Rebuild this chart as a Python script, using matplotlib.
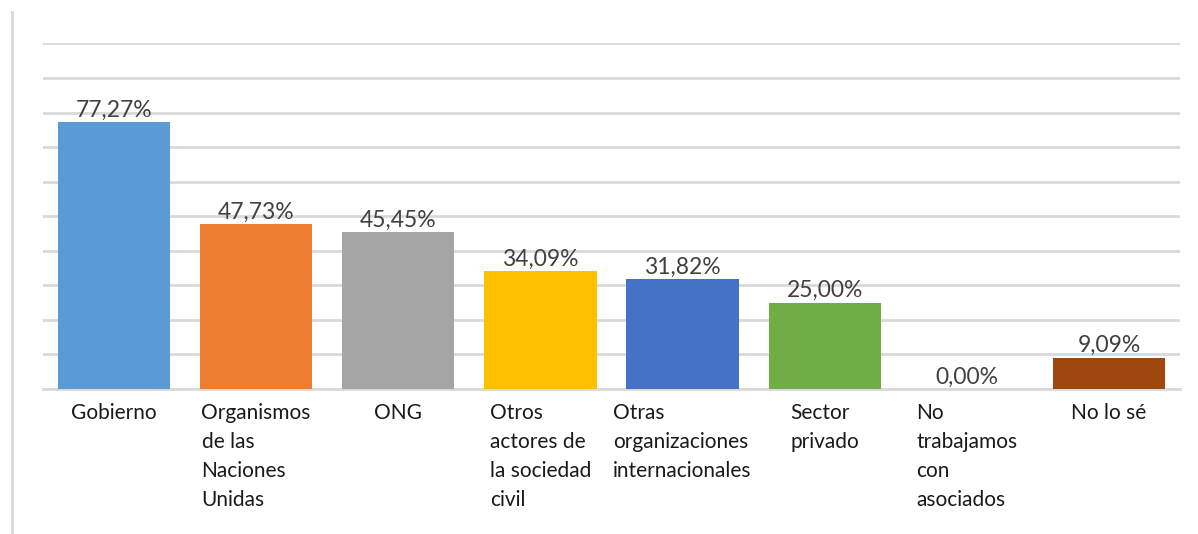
import matplotlib
matplotlib.use("Agg")
import matplotlib.pyplot as plt
from matplotlib.lines import Line2D

categories = ["Gobierno", "Organismos\nde las\nNaciones\nUnidas", "ONG",
              "Otros\nactores de\nla sociedad\ncivil",
              "Otras\norganizaciones\ninternacionales", "Sector\nprivado",
              "No\ntrabajamos\ncon\nasociados", "No lo sé"]
values = [77.27, 47.73, 45.45, 34.09, 31.82, 25.00, 0.00, 9.09]
value_labels = ["77,27%", "47,73%", "45,45%", "34,09%", "31,82%", "25,00%", "0,00%", "9,09%"]
colors = ["#5B9BD5", "#ED7D31", "#A5A5A5", "#FFC000", "#4472C4", "#70AD47", "#264478", "#9E480E"]

plt.rcParams['font.family'] = ['Lato', 'DejaVu Sans']

W, H = 1198, 534
fig = plt.figure(figsize=(W / 100, H / 100), dpi=100)
ax = fig.add_axes([43 / W, 1 - 389 / H, (1180 - 43) / W, (389 - 43.4) / H])

x = list(range(len(categories)))
ax.bar(x, values, width=0.79, color=colors, zorder=3)
ax.set_xlim(-0.5, len(categories) - 0.5)
ax.set_ylim(0, 100)
ax.set_yticks(range(0, 101, 10))
ax.yaxis.grid(True, color="#D9D9D9", linewidth=2, zorder=0)
ax.tick_params(left=False, bottom=False, labelleft=False, labelbottom=False)
for s in ["left", "right", "top"]:
    ax.spines[s].set_visible(False)
ax.spines["bottom"].set_color("#D9D9D9")
ax.spines["bottom"].set_linewidth(2)

for xi, v, lab in zip(x, values, value_labels):
    ax.annotate(lab, (xi, v), xytext=(0, 1), textcoords="offset points",
                ha="center", va="bottom", fontsize=16.5, color="#404040")

for xi, cat in zip(x, categories):
    ax.annotate(cat, (xi, 0), xytext=(0, -10), textcoords="offset points",
                ha="center", va="top", multialignment="left",
                fontsize=15, color="#1a1a1a", linespacing=1.56)

fig.add_artist(Line2D([12 / W, 12 / W], [0, 1 - 12 / H], color="#D9D9D9", linewidth=2))

fig.savefig("out.png", dpi=100, facecolor="white")
